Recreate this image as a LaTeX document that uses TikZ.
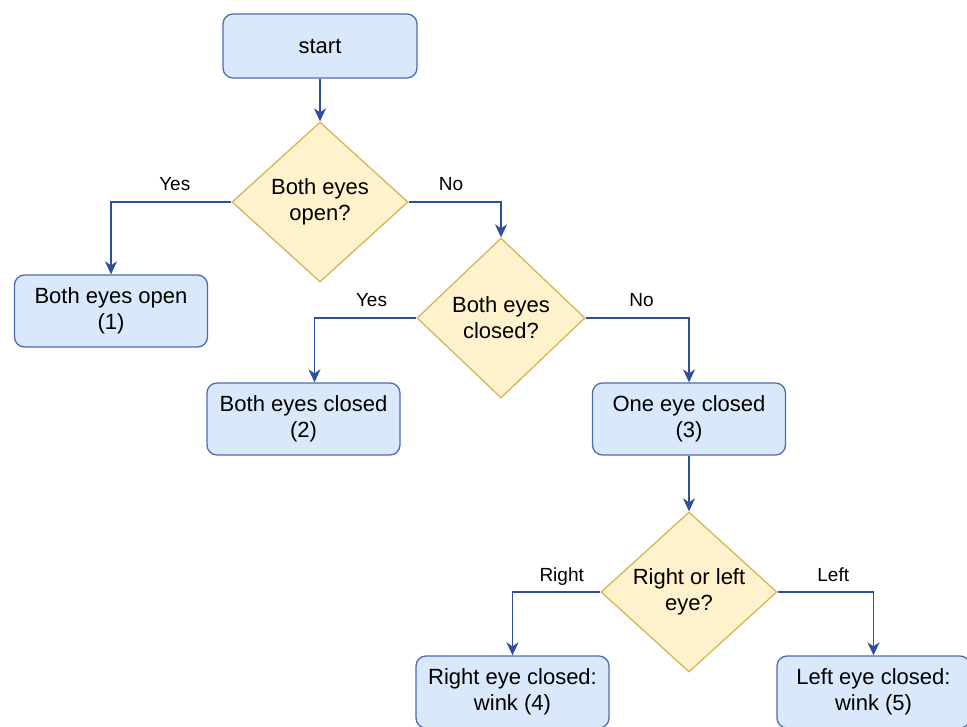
\documentclass[tikz,border=0pt]{standalone}
\usepackage{fontspec}
\setmainfont{Liberation Sans}
\usetikzlibrary{arrows.meta,shapes.geometric}
\definecolor{boxfill}{HTML}{DAE8FC}
\definecolor{boxline}{HTML}{4A6CB0}
\definecolor{decfill}{HTML}{FFF2CC}
\definecolor{decline}{HTML}{D6B656}
\definecolor{arrline}{HTML}{2E4F9E}
\begin{document}
\begin{tikzpicture}[x=1pt,y=-1pt, every node/.style={font=\fontsize{22}{26}\selectfont},
 box/.style={draw=boxline,fill=boxfill,line width=1.3pt,rounded corners=10pt,align=center,minimum width=193pt,minimum height=72pt,inner sep=0pt},
 dec/.style={diamond,draw=decline,fill=decfill,line width=1.3pt,align=center,minimum width=176pt,minimum height=160pt,inner sep=0pt},
 lbl/.style={font=\fontsize{19}{22}\selectfont,anchor=base,yshift=11pt},
 arr/.style={draw=arrline,line width=1.5pt,-{Stealth[length=13pt,width=12pt,inset=4pt]}}]
\clip (0,0) rectangle (967,727);
\node[box,minimum width=194pt,minimum height=64pt](s) at (320,46){start};
\node[dec](d1) at (320,202){Both eyes\\open?};
\node[box](b1) at (111,311){Both eyes open\\(1)};
\node[dec,minimum width=168pt](d2) at (501,318){Both eyes\\closed?};
\node[box](b2) at (303.5,419){Both eyes closed\\(2)};
\node[box](b3) at (689,419){One eye closed\\(3)};
\node[dec](d3) at (689,592){Right or left\\eye?};
\node[box](b4) at (512.5,692){Right eye closed:\\wink (4)};
\node[box](b5) at (873.5,692){Left eye closed:\\wink (5)};
\coordinate (b2in) at ([xshift=11pt]b2.north);
\draw[arr](s)--(d1);\draw[arr](d1.west)-|node[lbl,pos=0.235]{Yes}(b1.north);\draw[arr](d1.east)-|node[lbl,pos=0.23]{No}(d2.north);
\draw[arr](d2.west)-|node[lbl,pos=0.22]{Yes}(b2in);\draw[arr](d2.east)-|node[lbl,pos=0.27]{No}(b3.north);\draw[arr](b3)--(d3);
\draw[arr](d3.west)-|node[lbl,pos=0.22]{Right}(b4.north);\draw[arr](d3.east)-|node[lbl,pos=0.29]{Left}(b5.north);
\end{tikzpicture}
\end{document}
